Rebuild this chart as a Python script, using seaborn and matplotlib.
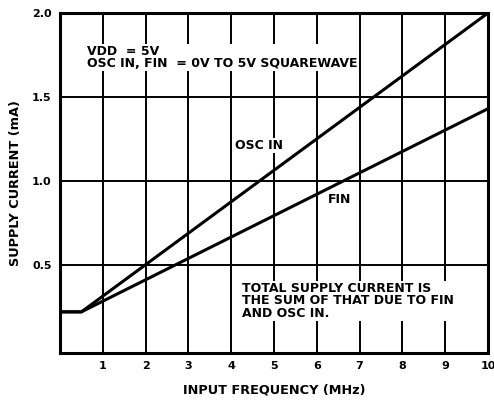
import matplotlib
matplotlib.use("Agg")
import matplotlib.pyplot as plt
import numpy as np
import pandas as pd
import seaborn as sns

# values
freq_osc = [0.0, 0.5, 10.0]
curr_osc = [0.22, 0.22, 2.0]
freq_fin = [0.0, 0.5, 10.0]
curr_fin = [0.22, 0.22, 1.43]
x_ticks = [1, 2, 3, 4, 5, 6, 7, 8, 9, 10]
y_ticks = [0.5, 1.0, 1.5, 2.0]

df = pd.concat([
    pd.DataFrame({"f": freq_osc, "i": curr_osc, "s": "OSC IN"}),
    pd.DataFrame({"f": freq_fin, "i": curr_fin, "s": "FIN"}),
])

sns.set_theme(style="white")
plt.rcParams["font.family"] = ["DejaVu Sans"]
plt.rcParams["font.weight"] = "bold"
plt.rcParams["text.color"] = "black"
plt.rcParams["axes.labelcolor"] = "black"
plt.rcParams["xtick.color"] = "black"
plt.rcParams["ytick.color"] = "black"

fig = plt.figure(figsize=(4.94, 4.01), dpi=100)
ax = fig.add_axes([60 / 494, 1 - 353 / 401, 428 / 494, 340 / 401])

for v in x_ticks[:-1]:
    ax.axvline(v, color="black", lw=1.4, zorder=1)
for v in y_ticks[:-1]:
    ax.axhline(v, color="black", lw=1.4, zorder=1)

sns.lineplot(data=df, x="f", y="i", units="s", estimator=None, color="black",
             lw=2.2, ax=ax, zorder=3, legend=False)

ax.set_xlim(0, 10)
ax.set_ylim(-0.025, 2.0)
ax.set_xticks(x_ticks)
ax.set_yticks(y_ticks)
ax.set_xticklabels([str(t) for t in x_ticks], fontsize=8, fontweight="bold")
ax.set_yticklabels([f"{t:.1f}" for t in y_ticks], fontsize=8, fontweight="bold")
ax.tick_params(length=0, pad=6)
for sp in ax.spines.values():
    sp.set_color("black")
    sp.set_linewidth(2.2)
    sp.set_zorder(5)

ax.set_xlabel("INPUT FREQUENCY (MHz)", fontsize=9.3, fontweight="bold", labelpad=9)
ax.set_ylabel("SUPPLY CURRENT (mA)", fontsize=9.3, fontweight="bold", labelpad=7)

box = dict(facecolor="white", edgecolor="none", pad=0.5)
ax.text(0.62, 1.735, "VDD  = 5V\nOSC IN, FIN  = 0V TO 5V SQUAREWAVE", fontsize=9,
        fontweight="bold", va="center", ha="left", linespacing=0.95, bbox=box, zorder=4)
ax.text(4.1, 1.21, "OSC IN", fontsize=9, fontweight="bold", va="center", bbox=box, zorder=4)
ax.text(6.25, 0.89, "FIN", fontsize=9, fontweight="bold", va="center", bbox=box, zorder=4)
ax.text(4.25, 0.285, "TOTAL SUPPLY CURRENT IS\nTHE SUM OF THAT DUE TO FIN\nAND OSC IN.",
        fontsize=9, fontweight="bold", va="center", ha="left", linespacing=0.95,
        bbox=box, zorder=4)

fig.savefig("out.png", dpi=100)
